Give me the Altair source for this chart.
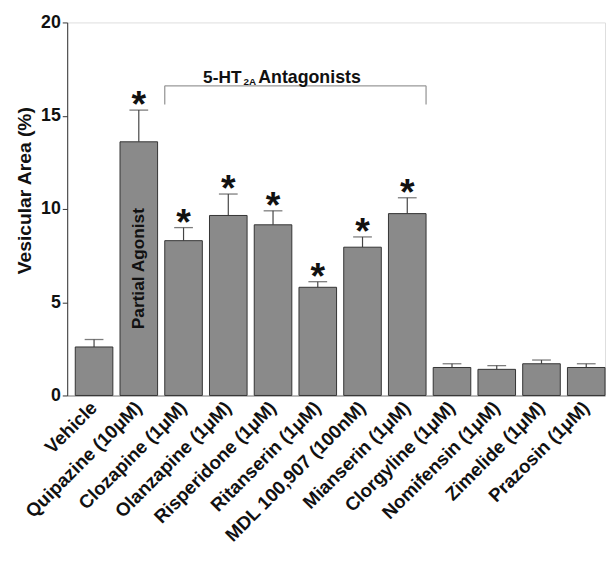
import altair as alt
import pandas as pd

categories = ["Vehicle", "Quipazine (10μM)", "Clozapine (1μM)", "Olanzapine (1μM)",
              "Risperidone (1μM)", "Ritanserin (1μM)", "MDL 100,907 (100nM)",
              "Mianserin (1μM)", "Clorgyline (1μM)", "Nomifensin (1μM)",
              "Zimelide (1μM)", "Prazosin (1μM)"]
means = [2.6, 13.6, 8.3, 9.65, 9.15, 5.8, 7.95, 9.75, 1.5, 1.4, 1.7, 1.5]
upper = [3.0, 15.3, 9.0, 10.8, 9.9, 6.1, 8.5, 10.6, 1.7, 1.6, 1.9, 1.7]
significant = [False, True, True, True, True, True, True, True, False, False, False, False]

bracket_start = "Clozapine (1μM)"
bracket_end = "Mianserin (1μM)"
bracket_top = 16.6
bracket_bottom = 15.6
bracket_label_y = 16.75
bracket_label_anchor = "Risperidone (1μM)"
agonist_cat = "Quipazine (10μM)"
agonist_y = 6.8

FONT = "Liberation Sans"

df = pd.DataFrame({
    "cat": categories,
    "mean": means,
    "upper": upper,
    "star": ["*" if s else "" for s in significant],
})


def xs():
    return alt.Scale(domain=categories, paddingInner=0.16, paddingOuter=0.09, align=1)


yscale = alt.Scale(domain=[0, 20])

x = alt.X("cat:N", scale=xs(), title=None,
          axis=alt.Axis(labelAngle=315, labelFont=FONT, labelFontSize=19,
                        labelFontWeight="bold", labelColor="#111", ticks=False,
                        domainColor="#aaaaaa", domainWidth=1.5, labelPadding=9,
                        labelLimit=300))
y = alt.Y("mean:Q", scale=yscale, title="Vesicular Area (%)",
          axis=alt.Axis(values=[0, 5, 10, 15, 20], labelFont=FONT, labelFontSize=18,
                        labelFontWeight="bold", labelColor="#111", tickColor="#333",
                        tickSize=5, domainColor="#333", grid=False, labelPadding=2,
                        titleFont=FONT, titleFontSize=19.5, titleFontWeight="bold",
                        titleColor="#111", titleAngle=270, titleX=-43, titleY=170,
                        titleAlign="center", titleBaseline="middle"))

base = alt.Chart(df)

err = base.mark_rule(color="#444", strokeWidth=1.2).encode(
    x=alt.X("cat:N", scale=xs()), y="mean:Q", y2="upper:Q")
cap = base.mark_tick(color="#444", thickness=1.3, size=19).encode(
    x=alt.X("cat:N", scale=xs()), y=alt.Y("upper:Q"))
bars = base.mark_bar(color="#8a8a8a", stroke="#333", strokeWidth=1).encode(x=x, y=y)
stars = base.mark_text(font=FONT, fontSize=38, fontWeight="bold", color="#111",
                       baseline="alphabetic", dy=7).encode(
    x=alt.X("cat:N", scale=xs()), y=alt.Y("upper:Q"), text="star:N")

bdf = pd.DataFrame({"start": [bracket_start], "end": [bracket_end],
                    "top": [bracket_top], "bottom": [bracket_bottom]})
bbase = alt.Chart(bdf)
hline = bbase.mark_rule(color="#999", strokeWidth=1.3).encode(
    x=alt.X("start:N", scale=xs(), bandPosition=0),
    x2=alt.X2("end:N", bandPosition=1), y="top:Q")
lend = bbase.mark_rule(color="#999", strokeWidth=1.3).encode(
    x=alt.X("start:N", scale=xs(), bandPosition=0), y="top:Q", y2="bottom:Q")
rend = bbase.mark_rule(color="#999", strokeWidth=1.3).encode(
    x=alt.X("end:N", scale=xs(), bandPosition=1), y="top:Q", y2="bottom:Q")

ldf = pd.DataFrame({"c": [bracket_label_anchor], "y": [bracket_label_y]})
lbase = alt.Chart(ldf)
t1 = lbase.mark_text(text="5-HT", font=FONT, fontSize=17.5, fontWeight="bold", color="#111",
                     align="right", baseline="alphabetic", dx=-32).encode(
    x=alt.X("c:N", scale=xs()), y="y:Q")
t2 = lbase.mark_text(text="2A", font=FONT, fontSize=10, fontWeight="bold", color="#111",
                     align="left", baseline="alphabetic", dx=-30, dy=2).encode(
    x=alt.X("c:N", scale=xs()), y="y:Q")
t3 = lbase.mark_text(text="Antagonists", font=FONT, fontSize=18, fontWeight="bold",
                     color="#111", align="left", baseline="alphabetic", dx=-15).encode(
    x=alt.X("c:N", scale=xs()), y="y:Q")

adf = pd.DataFrame({"c": [agonist_cat], "y": [agonist_y]})
agon = alt.Chart(adf).mark_text(text="Partial Agonist", font=FONT, fontSize=17.5,
                                fontWeight="bold", color="#111", angle=270,
                                align="center", baseline="middle").encode(
    x=alt.X("c:N", scale=xs()), y="y:Q")

chart = alt.layer(err, cap, bars, stars, hline, lend, rend, t1, t2, t3, agon).properties(
    width=545, height=378,
    autosize=alt.AutoSizeParams(type="none"),
    padding={"left": 60, "top": 11, "right": 2, "bottom": 156},
).configure_view(stroke=None).configure(background="white")

chart.save("out.html", embed_options={"renderer": "svg", "actions": False})
